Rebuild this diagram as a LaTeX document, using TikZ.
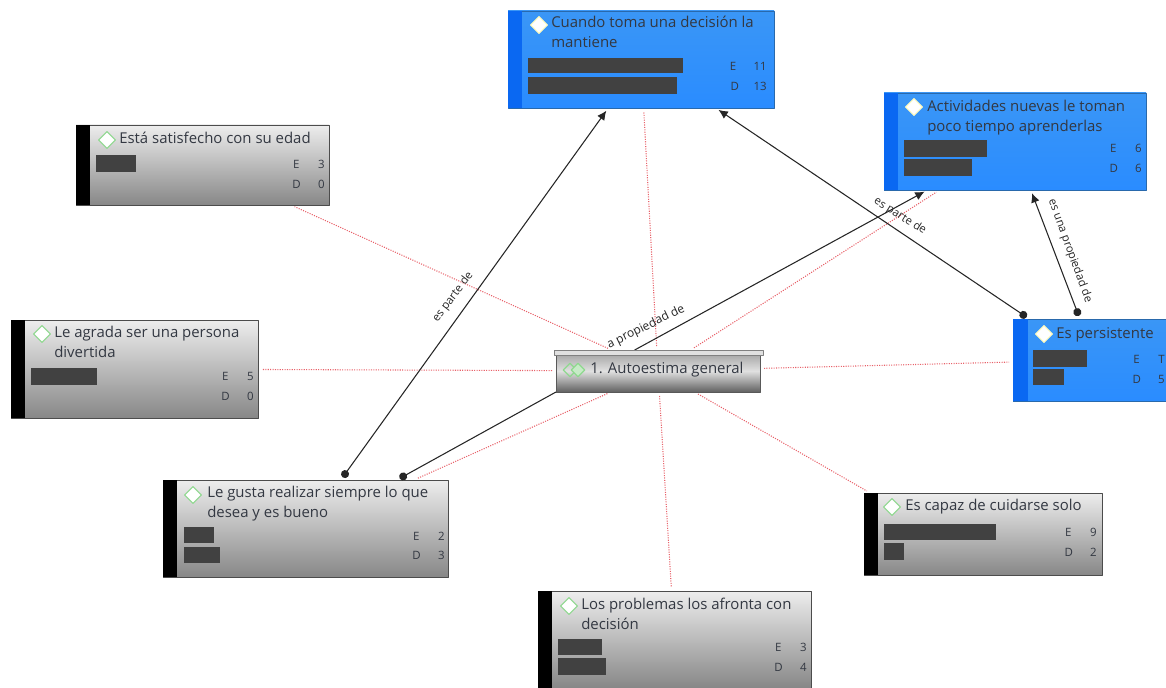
\documentclass[tikz,border=0pt]{standalone}
\usepackage{fontspec}
\setmainfont{Open Sans}
\usetikzlibrary{arrows.meta,fit,shapes.geometric}
\definecolor{cardblue}{HTML}{3A96F6}
\definecolor{cardbluelow}{HTML}{2A8CFF}
\definecolor{stripblue}{HTML}{0A68F2}
\definecolor{barcolor}{HTML}{414141}
\definecolor{inkcolor}{HTML}{333842}
\definecolor{linkred}{HTML}{E8626A}
\definecolor{leafgreen}{HTML}{8FD88F}
\tikzset{
 grayc/.style={inner sep=0,outer sep=0,draw=black!70,line width=0.6pt,top color=black!7,bottom color=black!47},
 bluec/.style={inner sep=0,outer sep=0,draw=cardblue!70!black,line width=0.6pt,top color=cardblue,bottom color=cardbluelow},
 rootc/.style={inner sep=0,outer sep=0,draw=black!65,line width=0.6pt,top color=black!40,bottom color=black!62,middle color=black!12},
 rootlip/.style={inner sep=0,outer sep=0,draw=black!50,line width=0.5pt,fill=black!12},
 graystrip/.style={inner sep=0,outer sep=0,fill=black},
 bluestrip/.style={inner sep=0,outer sep=0,fill=stripblue},
 valuebar/.style={inner sep=0,outer sep=0,fill=barcolor},
 graymark/.style={diamond,inner sep=0,minimum size=13pt,draw=leafgreen,line width=0.8pt,fill=white},
 bluemark/.style={diamond,inner sep=0,minimum size=13pt,draw=yellow!25,line width=0.8pt,fill=white},
 rootmark/.style={diamond,inner sep=0,minimum size=10.5pt,draw=leafgreen,line width=0.9pt},
 titletext/.style={anchor=north west,inner sep=0,align=left,text=inkcolor,font=\fontsize{11.2}{15}\selectfont},
 stattext/.style={anchor=east,inner sep=0,text=inkcolor,font=\fontsize{8.6}{10}\selectfont},
 linklabel/.style={inner sep=0,text=black!85,font=\fontsize{8.5}{10}\selectfont},
 redlink/.style={densely dotted,draw=linkred,line width=0.8pt,shorten >=3pt,shorten <=3pt},
 blacklink/.style={draw=black!85,line width=0.8pt,shorten >=2.5pt,shorten <=2.5pt,{Circle[length=6pt]}-{Latex[length=7pt,width=6.5pt]}},
 plainlink/.style={draw=black!85,line width=0.8pt,shorten <=2.5pt,{Circle[length=6pt]}-},
}
\begin{document}
\begin{tikzpicture}[x=0.75pt,y=-0.75pt,line join=round]
\useasboundingbox (0,0) rectangle (1166,688);

\node[bluec,fit={(508,11)(774,108)}] (mantiene) {};
\node[bluestrip,fit={(508,11)(522,108)}] (mantieneS) {};
\node[bluemark] (mantieneM) at (539,25) {};
\node[titletext] (mantieneT) at (551,16) {Cuando toma una decisión la\\mantiene};
\node[valuebar,fit={(528,58)(683,73)}] (mantieneA) {};
\node[valuebar,fit={(528,77)(677,94)}] (mantieneB) {};
\node[stattext] (mantieneE) at (767,66) {E\hspace{13pt}11};
\node[stattext] (mantieneD) at (767,86) {D\hspace{11pt}13};

\node[bluec,fit={(884,93)(1146,190)}] (nuevas) {};
\node[bluestrip,fit={(884,93)(898,190)}] (nuevasS) {};
\node[bluemark] (nuevasM) at (914,107) {};
\node[titletext] (nuevasT) at (927,100) {Actividades nuevas le toman\\poco tiempo aprenderlas};
\node[valuebar,fit={(904,140)(987,157)}] (nuevasA) {};
\node[valuebar,fit={(904,159)(972,176)}] (nuevasB) {};
\node[stattext] (nuevasE) at (1142,148) {E\hspace{14pt}6};
\node[stattext] (nuevasD) at (1142,168) {D\hspace{13pt}6};

\node[bluec,fit={(1013,319)(1172,401)}] (persistente) {};
\node[bluestrip,fit={(1013,319)(1028,401)}] (persistenteS) {};
\node[bluemark] (persistenteM) at (1044,334) {};
\node[titletext] (persistenteT) at (1056,327) {Es persistente};
\node[valuebar,fit={(1033,350)(1087,367)}] (persistenteA) {};
\node[valuebar,fit={(1033,369)(1064,385)}] (persistenteB) {};
\node[stattext] (persistenteE) at (1165,359) {E\hspace{14pt}T};
\node[stattext] (persistenteD) at (1165,379) {D\hspace{13pt}5};

\node[grayc,fit={(76,125)(329,205)}] (edad) {};
\node[graystrip,fit={(76,125)(90,205)}] (edadS) {};
\node[graymark] (edadM) at (107,140) {};
\node[titletext] (edadT) at (119,132) {Está satisfecho con su edad};
\node[valuebar,fit={(96,155)(136,172)}] (edadA) {};
\node[stattext] (edadE) at (325,164) {E\hspace{14pt}3};
\node[stattext] (edadD) at (325,184) {D\hspace{13pt}0};

\node[grayc,fit={(11,320)(258,418)}] (divertida) {};
\node[graystrip,fit={(11,320)(25,418)}] (divertidaS) {};
\node[graymark] (divertidaM) at (42,334) {};
\node[titletext] (divertidaT) at (54,326) {Le agrada ser una persona\\divertida};
\node[valuebar,fit={(31,368)(97,385)}] (divertidaA) {};
\node[stattext] (divertidaE) at (254,376) {E\hspace{14pt}5};
\node[stattext] (divertidaD) at (254,396) {D\hspace{13pt}0};

\node[grayc,fit={(163,480)(448,577)}] (desea) {};
\node[graystrip,fit={(163,480)(177,577)}] (deseaS) {};
\node[graymark] (deseaM) at (193,495) {};
\node[titletext] (deseaT) at (207,486) {Le gusta realizar siempre lo que\\desea y es bueno};
\node[valuebar,fit={(184,527)(214,543)}] (deseaA) {};
\node[valuebar,fit={(184,547)(220,563)}] (deseaB) {};
\node[stattext] (deseaE) at (445,536) {E\hspace{14pt}2};
\node[stattext] (deseaD) at (445,555) {D\hspace{13pt}3};

\node[grayc,fit={(864,493)(1102,575)}] (cuidarse) {};
\node[graystrip,fit={(864,493)(878,575)}] (cuidarseS) {};
\node[graymark] (cuidarseM) at (892,507) {};
\node[titletext] (cuidarseT) at (905,499) {Es capaz de cuidarse solo};
\node[valuebar,fit={(884,524)(996,540)}] (cuidarseA) {};
\node[valuebar,fit={(884,543)(904,560)}] (cuidarseB) {};
\node[stattext] (cuidarseE) at (1097,532) {E\hspace{14pt}9};
\node[stattext] (cuidarseD) at (1097,552) {D\hspace{13pt}2};

\node[grayc,fit={(538,591)(811,688)}] (afronta) {};
\node[graystrip,fit={(538,591)(552,688)}] (afrontaS) {};
\node[graymark] (afrontaM) at (569,606) {};
\node[titletext] (afrontaT) at (581,598) {Los problemas los afronta con\\decisión};
\node[valuebar,fit={(558,639)(602,655)}] (afrontaA) {};
\node[valuebar,fit={(558,658)(606,675)}] (afrontaB) {};
\node[stattext] (afrontaE) at (807,647) {E\hspace{14pt}3};
\node[stattext] (afrontaD) at (807,667) {D\hspace{13pt}4};

\node[rootc,fit={(556,350)(760,392)}] (autoestima) {};

\draw[redlink] (autoestima) -- (edad);
\draw[redlink] (autoestima) -- (divertida);
\draw[redlink] (autoestima) -- (desea);
\draw[redlink] (autoestima) -- (afronta);
\draw[redlink] (autoestima) -- (cuidarse.160);
\draw[redlink] (autoestima) -- (persistente);
\draw[redlink] (autoestima) -- (nuevas);
\draw[redlink] (autoestima) -- (mantiene);

\draw[blacklink] (desea.54) -- (mantiene.236);
\draw[plainlink] (desea.28) -- (autoestima.south west);
\draw[blacklink] (persistente.147) -- (mantiene.-33);
\draw[blacklink] (persistente.107) -- (nuevas.-72);
\draw[draw=black!85,line width=0.8pt,shorten >=2.5pt,-{Latex[length=7pt,width=6.5pt]}] (autoestima.138) -- (nuevas.209);

\node[linklabel,rotate=53] (parteA) at (453,297) {es parte de};
\node[linklabel,rotate=-32] (parteB) at (900,216) {es parte de};
\node[linklabel,rotate=-70] (propiedadA) at (1070,251) {es una propiedad de};
\node[linklabel,rotate=26,font=\fontsize{9}{10}\selectfont] (propiedadB) at (646,327) {a propiedad de};

\node[rootlip,fit={(554,350)(763,355)}] (autoestimaL) {};
\node[rootmark] (autoestimaM) at (570,370) {};
\node[rootmark,fill=leafgreen!50] (autoestimaN) at (578,370) {};
\node[titletext,anchor=west] (autoestimaT) at (590,370) {1. Autoestima general};
\end{tikzpicture}
\end{document}
